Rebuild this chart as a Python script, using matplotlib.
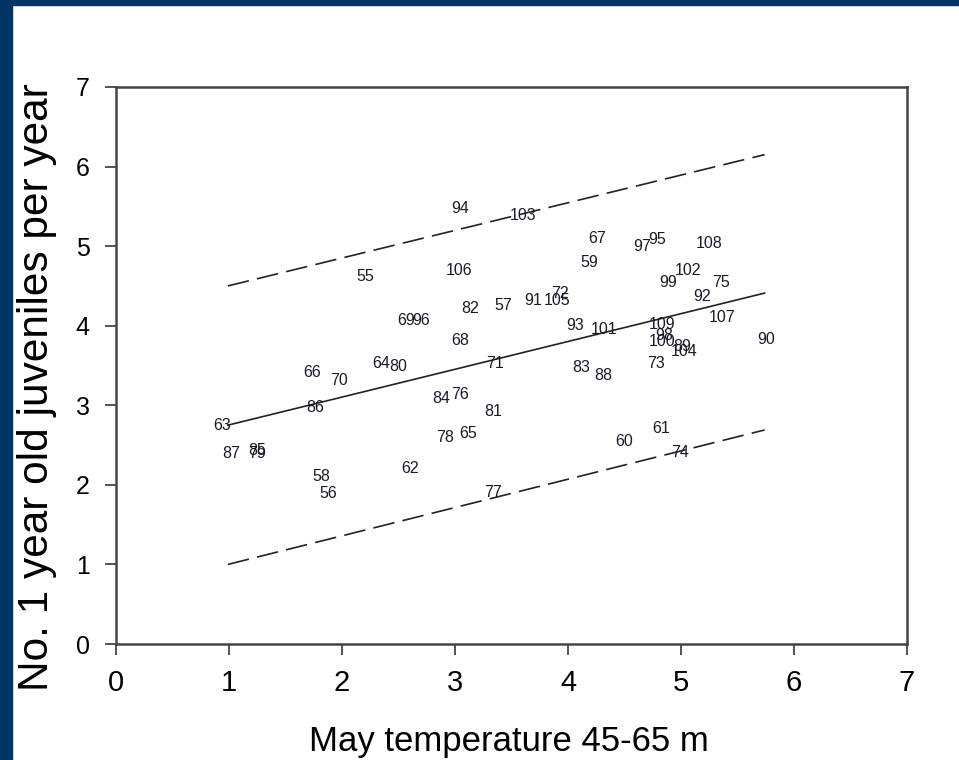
import matplotlib
matplotlib.use("Agg")
import matplotlib.pyplot as plt
from matplotlib.patches import Rectangle

# year labels and their (temperature, juveniles) positions
years = [55, 56, 57, 58, 59, 60, 61, 62, 63, 64, 65, 66, 67, 68, 69, 70,
         71, 72, 73, 74, 75, 76, 77, 78, 79, 80, 81, 82, 83, 84, 85, 86,
         87, 88, 89, 90, 91, 92, 93, 94, 95, 96, 97, 98, 99, 100, 101, 102,
         103, 104, 105, 106, 107, 108, 109]
temp = [2.21, 1.88, 3.43, 1.82, 4.19, 4.50, 4.82, 2.60, 0.94, 2.35, 3.12, 1.74,
        4.26, 3.05, 2.57, 1.97, 3.35, 3.93, 4.78, 4.99, 5.35, 3.04, 3.34, 2.91,
        1.25, 2.50, 3.34, 3.13, 4.12, 2.88, 1.25, 1.76, 1.02, 4.31, 5.01, 5.75,
        3.69, 5.19, 4.06, 3.05, 4.79, 2.70, 4.66, 4.85, 4.89, 4.83, 4.32, 5.06,
        3.60, 5.03, 3.90, 3.04, 5.36, 5.25, 4.83]
juv = [4.62, 1.89, 4.26, 2.10, 4.80, 2.54, 2.71, 2.20, 2.74, 3.52, 2.65, 3.41,
       5.10, 3.81, 4.06, 3.31, 3.53, 4.40, 3.52, 2.41, 4.54, 3.13, 1.90, 2.60,
       2.39, 3.49, 2.92, 4.22, 3.47, 3.09, 2.43, 2.97, 2.39, 3.37, 3.74, 3.83,
       4.32, 4.37, 4.00, 5.47, 5.08, 4.06, 5.00, 3.88, 4.54, 3.80, 3.95, 4.70,
       5.39, 3.68, 4.32, 4.70, 4.10, 5.03, 4.02]

# regression line and prediction band end points
fit_x = [0.99, 5.74]
fit_y = [2.75, 4.41]
upper_y = [4.50, 6.15]
lower_y = [1.00, 2.69]

plt.rcParams['font.family'] = ['Liberation Sans', 'DejaVu Sans']

fig = plt.figure(figsize=(9.59, 7.60), dpi=100)
fig.patch.set_facecolor('white')

# slide frame
navy = '#003366'
fig.patches.append(Rectangle((0, 1 - 5 / 760), 1, 5 / 760, transform=fig.transFigure,
                             color=navy, zorder=0))
fig.patches.append(Rectangle((0, 0), 12 / 959, 1, transform=fig.transFigure,
                             color=navy, zorder=0))

ax = fig.add_axes([116 / 959, 116 / 760, 791 / 959, 557 / 760])

ax.plot(fit_x, fit_y, color='#222222', lw=1.2)
ax.plot(fit_x, upper_y, color='#222222', lw=1.2, ls=(0, (13, 5)))
ax.plot(fit_x, lower_y, color='#222222', lw=1.2, ls=(0, (13, 5)))

for yr, tx, jv in zip(years, temp, juv):
    ax.text(tx, jv, str(yr), ha='center', va='center', fontsize=11.5,
            color='#1a1a2a')

ax.set_xlim(0, 7)
ax.set_ylim(0, 7)
ax.set_xticks(range(8))
ax.set_yticks(range(8))

for lab in ax.get_xticklabels():
    lab.set_fontsize(21)
for lab in ax.get_yticklabels():
    lab.set_fontsize(18)

ax.tick_params(axis='x', direction='out', length=8, width=1.3, colors='#444444',
               labelcolor='black', pad=10)
ax.tick_params(axis='y', direction='out', length=8, width=1.3, colors='#444444',
               labelcolor='black', pad=11)
for sp in ax.spines.values():
    sp.set_color('#444444')
    sp.set_linewidth(1.8)

fig.text(509 / 959, 1 - 741 / 760, 'May temperature 45-65 m', ha='center',
         va='center', fontsize=25)
fig.text(37 / 959, 1 - 387 / 760, 'No. 1 year old juveniles per year', ha='center',
         va='center', rotation=90, fontsize=30.5)

fig.savefig('out.png', dpi=100)
